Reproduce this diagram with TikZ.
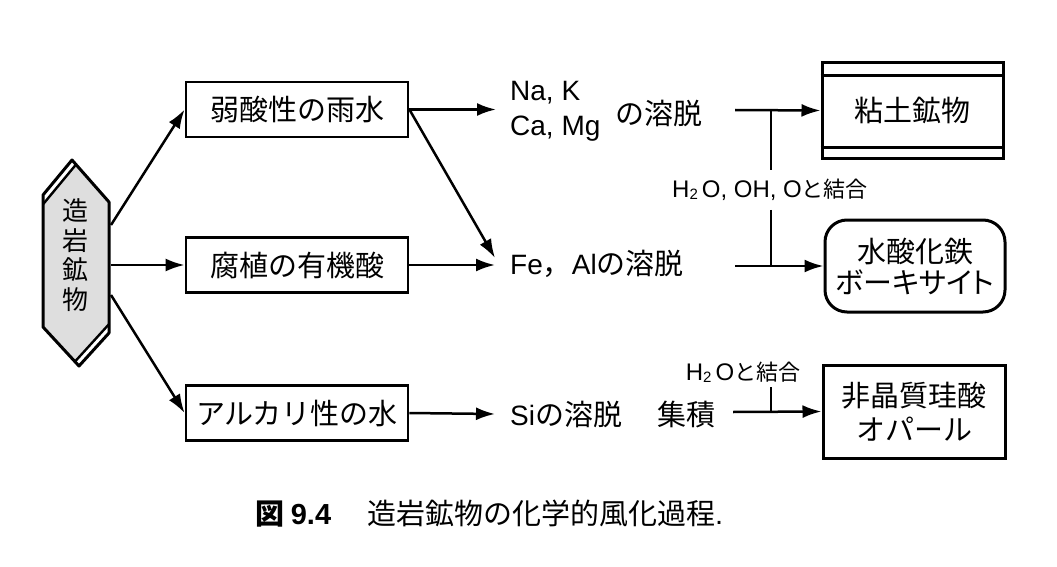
\documentclass[tikz,border=0pt]{standalone}
\usepackage{fontspec}
\setmainfont{Noto Sans CJK JP}
\newfontfamily\lat{Liberation Sans}
\newfontfamily\jpp{Noto Sans CJK JP}[RawFeature=+palt]
\usetikzlibrary{arrows.meta}
\begin{document}
\begin{tikzpicture}[x=1pt,y=-1pt,
  box/.style={draw, line width=2.8pt, minimum width=222pt, minimum height=55pt, inner sep=0pt, font=\fontsize{29}{31}\selectfont},
  rbox/.style={draw, line width=3pt, inner sep=0pt, align=center, font=\fontsize{29}{31}\selectfont},
  arr/.style={line width=2.5pt, -{Latex[length=19pt,width=13pt]}},
  ln/.style={line width=2.5pt},
  txt/.style={inner sep=0pt, font=\fontsize{29}{31}\selectfont},
  lbl/.style={inner xsep=0pt, font=\fontsize{22}{24}\selectfont},
  latin/.style={font=\lat\fontsize{28}{35}\selectfont},
]
\useasboundingbox (0,0) rectangle (1057,567);

% --- hexagon (rock-forming minerals)
\coordinate (T) at (72,160);
\coordinate (UR) at (109,202);
\coordinate (LR) at (109,333);
\coordinate (B) at (79,366);
\coordinate (LL) at (43,327);
\coordinate (UL) at (43,195);
\fill[black!13] (T)--(UR)--(LR)--(B)--(LL)--(UL)--cycle;
\begin{scope}
  \clip (T)--(UR)--(LR)--(B)--(LL)--(UL)--cycle;
  \fill[white] (33.1,216.3) -- (91.1,146.3) -- (60,120) -- (10,180) -- cycle;
  \fill[white] (119.6,312.5) -- (59.6,378.5) -- (90,400) -- (140,340) -- cycle;
  \draw[line width=2.4pt] (33.1,216.3) -- (91.1,146.3);
  \draw[line width=2.4pt] (119.6,312.5) -- (59.6,378.5);
\end{scope}
\draw[line width=3pt, line join=round] (T)--(UR)--(LR)--(B)--(LL)--(UL)--cycle;
\node[inner sep=0pt, align=center, font=\fontsize{26}{29.5}\selectfont] (hex) at (75,255) {造\\岩\\鉱\\物};
\coordinate (h1) at (111,225);
\coordinate (h2) at (111,265);
\coordinate (h3) at (111,295);

% --- agents
\node[box] (b1) at (297,109.5) {弱酸性の雨水};
\node[box] (b2) at (297,265) {腐植の有機酸};
\node[box] (b3) at (297,413) {アルカリ性の水};
\draw[arr] (h1) -- (b1.west);
\draw[arr] (h2) -- (b2.west);
\draw[arr] (h3) -- (b3.west);

% --- leaching
\node[inner sep=0pt, anchor=west, align=left, latin] (na) at (510,111) {Na, K\\Ca, Mg};
\node[txt, anchor=west] (nd) at (615,113) {の溶脱};
\node[txt, anchor=west] (fe) at (510,264) {{\lat\fontsize{28}{31}\selectfont Fe}，{\lat\fontsize{28}{31}\selectfont Al}の溶脱};
\node[txt, anchor=west] (si) at (510,415) {{\lat\fontsize{28}{31}\selectfont Si}の溶脱\hspace{35pt}集積};
\coordinate (e1) at (496,109.5);
\coordinate (e2) at (495,258);
\coordinate (e3) at (495,265);
\coordinate (e4) at (495,414);
\draw[arr] (b1.east) -- (e1);
\draw[arr] (b1.east) -- (e2);
\draw[arr] (b2.east) -- (e3);
\draw[arr] (b3.east) -- (e4);

% --- products
\node[rbox, minimum width=181pt, minimum height=95pt] (clay) at (912.5,110.5) {粘土鉱物};
\draw[line width=2.8pt] ([yshift=-14pt]clay.north west) -- ([yshift=-14pt]clay.north east);
\draw[line width=2.8pt] ([yshift=12pt]clay.south west) -- ([yshift=12pt]clay.south east);
\node[rbox, rounded corners=22pt, minimum width=180pt, minimum height=92pt, font=\fontsize{29}{31}\selectfont] (iron) at (915,266) {水酸化鉄\\{\jpp ボーキサイト}};
\node[rbox, minimum width=182pt, minimum height=93pt, font=\fontsize{29}{34}\selectfont] (opal) at (914,411.5) {非晶質珪酸\\オパール};

\coordinate (s1) at (735,110);
\coordinate (s2) at (735,266);
\coordinate (s3) at (733,412);
\coordinate (j1) at (771,110);
\coordinate (j2) at (771,266);
\coordinate (j3) at (771,412);
\draw[arr] (s1) -- (clay.west);
\draw[arr] (s2) -- (iron.west);
\draw[arr] (s3) -- (opal.west);

\node[lbl, inner ysep=9pt, anchor=west] (hl) at (672,190) {{\lat\fontsize{24}{24}\selectfont H\raisebox{-2pt}{\fontsize{15}{15}\selectfont 2}\,O, OH, O}と結合};
\draw[ln] (j1) -- (j1 |- hl.north);
\draw[ln] (j2 |- hl.south) -- (j2);

\node[lbl, inner ysep=5pt] (hl2) at (743,372) {{\lat\fontsize{24}{24}\selectfont H\raisebox{-2pt}{\fontsize{15}{15}\selectfont 2}\,O}と結合};
\draw[ln] (j3 |- hl2.south) -- (j3);

% --- caption
\node[inner sep=0pt, anchor=west, font=\fontsize{29}{29}\selectfont] (cap) at (255,514) {{\bfseries 図 {\lat 9.4}}\hspace{36pt}造岩鉱物の化学的風化過程{\lat .}};
\end{tikzpicture}
\end{document}
